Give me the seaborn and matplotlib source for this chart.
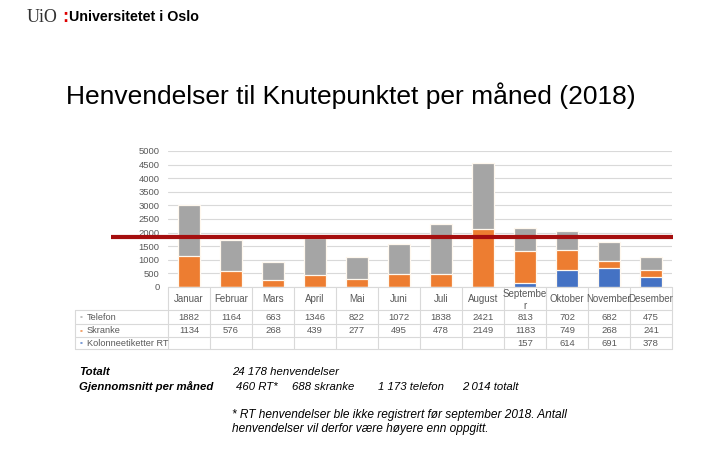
import numpy as np
import pandas as pd
import matplotlib
matplotlib.use('Agg')
import matplotlib.pyplot as plt
import matplotlib.transforms as mtransforms
import seaborn as sns

# data
months = ['Januar', 'Februar', 'Mars', 'April', 'Mai', 'Juni', 'Juli', 'August',
          'Septembe\nr', 'Oktober', 'November', 'Desember']
telefon = [1882, 1164, 663, 1346, 822, 1072, 1838, 2421, 813, 702, 682, 475]
skranke = [1134, 576, 268, 439, 277, 495, 478, 2149, 1183, 749, 268, 241]
rt = [None, None, None, None, None, None, None, None, 157, 614, 691, 378]
row_names = ['Telefon', 'Skranke', 'Kolonneetiketter RT']
avg_line = 1830

GRAY = '#A5A5A5'
ORANGE = '#ED7D31'
BLUE = '#4472C4'
GRID = '#D9D9D9'
TXT = '#595959'

sns.set_theme(style='white')
plt.rcParams['font.family'] = ['Liberation Sans', 'DejaVu Sans']

df = pd.DataFrame({'month': months, 'Telefon': telefon, 'Skranke': skranke,
                   'RT': [v if v is not None else 0 for v in rt]})
df['lvl_rt'] = df['RT']
df['lvl_skranke'] = df['RT'] + df['Skranke']
df['lvl_total'] = df['lvl_skranke'] + df['Telefon']

W, H = 720, 450
fig = plt.figure(figsize=(7.2, 4.5), dpi=100)

def fx(px):
    return px / W

def fy(py):
    return 1 - py / H

ax = fig.add_axes([fx(168), fy(287), fx(672 - 168), (287 - 151) / H])
# stacked bars drawn as overlapping cumulative layers
for col, c in [('lvl_total', GRAY), ('lvl_skranke', ORANGE), ('lvl_rt', BLUE)]:
    sns.barplot(data=df, x='month', y=col, color=c, width=0.52, ax=ax,
                edgecolor='#FFF8EE', linewidth=0.9, saturation=1)
ax.set_ylim(0, 5000)
ax.set_xlim(-0.5, 11.5)
ax.set_yticks(np.arange(0, 5001, 500))
ax.tick_params(axis='y', labelsize=6.8, labelcolor=TXT, length=0, pad=6)
ax.set_xticks([])
ax.set_xlabel('')
ax.set_ylabel('')
ax.yaxis.grid(True, color=GRID, lw=0.8)
ax.set_axisbelow(True)
for s in ax.spines.values():
    s.set_visible(False)

# red average line, runs past the axes on the left
trans = mtransforms.blended_transform_factory(fig.transFigure, ax.transData)
ax.plot([fx(111), fx(673)], [avg_line, avg_line], color='#A50E0E', lw=3,
        transform=trans, clip_on=False, zorder=10, solid_capstyle='butt')

# data table under the chart
tab = fig.add_axes([fx(75), fy(349), fx(672 - 75), (349 - 287) / H])
lab_w = (168 - 75) / 42
tab.set_xlim(-0.5 - lab_w, 11.5)
tab.set_ylim(349, 287)
tab.axis('off')
row_y = [287, 310, 324, 337, 349]
lc = dict(color=GRID, lw=0.8, clip_on=False)
tab.plot([-0.5, 11.5], [row_y[0], row_y[0]], **lc)
for yy in row_y[1:]:
    tab.plot([-0.5 - lab_w, 11.5], [yy, yy], **lc)
for k in range(13):
    tab.plot([k - 0.5, k - 0.5], [row_y[0], row_y[-1]], **lc)
tab.plot([-0.5 - lab_w, -0.5 - lab_w], [row_y[1], row_y[-1]], **lc)

for i, m in enumerate(months):
    if '\n' in m:
        tab.text(i, 289, m, ha='center', va='top', fontsize=7, color=TXT,
                 linespacing=1.2)
    else:
        tab.text(i, 298.5, m, ha='center', va='center', fontsize=7, color=TXT)

series = [telefon, skranke, rt]
colors = [GRAY, ORANGE, BLUE]
for r, (name, vals, c) in enumerate(zip(row_names, series, colors)):
    yc = (row_y[r + 1] + row_y[r + 2]) / 2
    tab.text(-0.5 - lab_w + 0.12, yc, '\u25aa', ha='left', va='center',
             fontsize=6, color=c, alpha=0.7)
    tab.text(-0.5 - lab_w + 0.28, yc, name, ha='left', va='center',
             fontsize=6.6, color=TXT)
    for i, v in enumerate(vals):
        if v is not None:
            tab.text(i, yc, str(v), ha='center', va='center', fontsize=6.8,
                     color=TXT)

# header, logo and title
fig.text(fx(27), fy(17), 'UiO', family='Liberation Serif', fontsize=13,
         color='#333333', va='center', ha='left')
fig.text(fx(62), fy(17), ':', fontsize=13, fontweight='bold', color='#DD0000',
         va='center', ha='left')
fig.text(fx(69), fy(17), 'Universitetet i Oslo', fontsize=10.3, fontweight='bold',
         color='black', va='center', ha='left')
fig.text(fx(351), fy(96), 'Henvendelser til Knutepunktet per måned (2018)',
         fontsize=19, color='black', ha='center', va='center')

# summary text below the table
it = dict(fontsize=8.2, style='italic', color='black', va='center', ha='left')
fig.text(fx(79), fy(372), 'Totalt', fontweight='bold', **it)
fig.text(fx(79), fy(387), 'Gjennomsnitt per måned', fontweight='bold', **it)
fig.text(fx(232), fy(372), '24 178 henvendelser', **it)
fig.text(fx(236), fy(387), '460 RT*', **it)
fig.text(fx(292), fy(387), '688 skranke', **it)
fig.text(fx(378), fy(387), '1 173 telefon', **it)
fig.text(fx(462), fy(387), '2 014 totalt', **it)
fig.text(fx(232), fy(415), '* RT henvendelser ble ikke registrert før september 2018. Antall',
         fontsize=8.6, style='italic', color='black', va='center', ha='left')
fig.text(fx(232), fy(429), 'henvendelser vil derfor være høyere enn oppgitt.',
         fontsize=8.6, style='italic', color='black', va='center', ha='left')

fig.savefig('out.png', dpi=100, facecolor='white')
